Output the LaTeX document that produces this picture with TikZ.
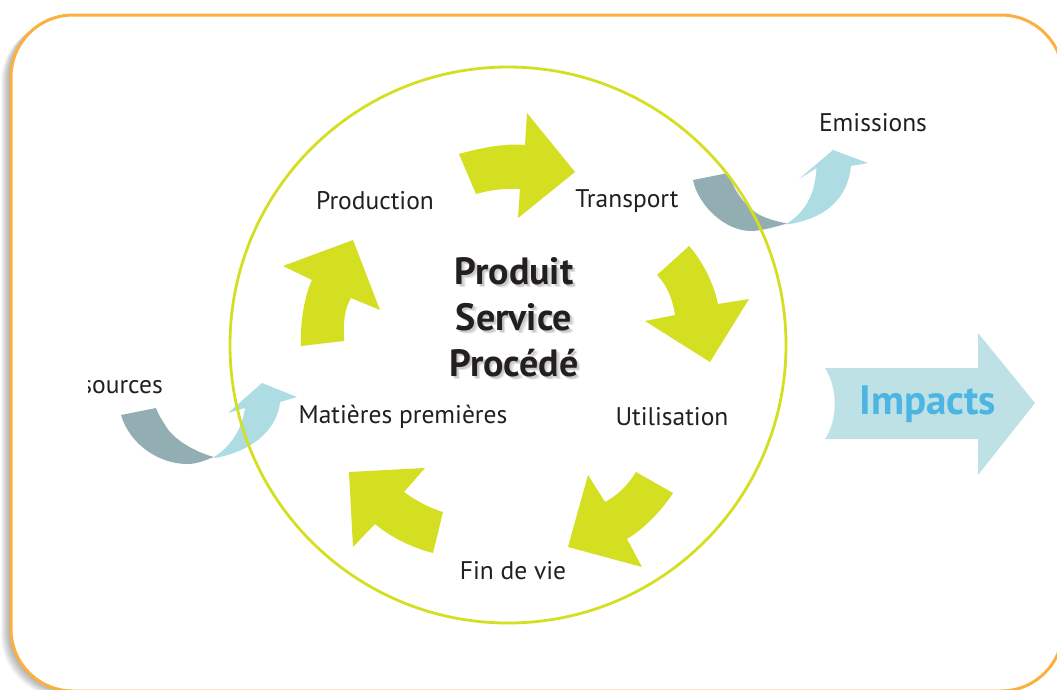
\documentclass[tikz,border=0pt]{standalone}
\usepackage{fontspec}
\setmainfont{PT Sans}
\definecolor{ylw}{HTML}{D5DF21}
\definecolor{frameor}{HTML}{FBB040}
\definecolor{ribgray}{HTML}{93AEB3}
\definecolor{ribblue}{HTML}{ADDCE3}
\definecolor{impfill}{HTML}{BEE1E6}
\definecolor{imptext}{HTML}{4CB5E2}
\definecolor{txt}{HTML}{231F20}
\tikzset{
  lbl/.style={font=\fontsize{25.5}{30}\selectfont, text=txt, inner sep=0pt},
  cyc/.style={fill=ylw},
  ctr/.style={align=center, font=\bfseries\fontsize{38}{46}\selectfont, inner sep=0pt},
  shd/.style={fill=black, fill opacity=0.035, rounded corners=62},
}
\begin{document}
\begin{tikzpicture}[x=1pt,y=-1pt]
\useasboundingbox (0,0) rectangle (1057,689);
\fill[white] (0,0) rectangle (1057,689);
% frame shadow (soft, to the left and below)
\foreach \s in {1,...,10} {
  \fill[shd] (11-\s,15+0.6*\s) rectangle (1063-\s,691+0.6*\s);
}
% frame
\draw[frameor, line width=3, rounded corners=62, fill=white] (11,15) rectangle (1063,691);

% yellow cycle arrows
\fill[cyc] (301,346) -- (344,341) .. controls (343,320) and (345,308) .. (351,298)
  -- (380,310) -- (353,240) -- (283,266) -- (312,280)
  .. controls (305,295) and (300,320) .. (301,346) -- cycle;
\fill[cyc] (476,194) -- (459,154) .. controls (480,148) and (505,143) .. (525,145)
  -- (527,113) -- (575,172) -- (518,218) -- (520,189)
  .. controls (505,188) and (490,190) .. (476,194) -- cycle;
\fill[cyc] (657,275) -- (689,246) .. controls (700,258) and (713,280) .. (718,304)
  -- (749,299) -- (710,362) -- (645,321) -- (675,315)
  .. controls (673,300) and (667,285) .. (657,275) -- cycle;
\fill[cyc] (636,472) -- (673,493) .. controls (662,510) and (645,528) .. (627,539)
  -- (642,567) -- (568,547) -- (588,475) -- (605,502)
  .. controls (618,495) and (628,485) .. (636,472) -- cycle;
\fill[cyc] (443,512) -- (433,553) .. controls (413,548) and (392,538) .. (375,524)
  -- (353,547) -- (349,472) -- (425,468) -- (404,492)
  .. controls (418,502) and (430,508) .. (443,512) -- cycle;

% emissions ribbon
\fill[ribgray] (693,180) .. controls (698,205) and (725,232) .. (753,231)
  .. controls (765,230) and (778,226) .. (787,223.5)
  .. controls (770,220) and (760,216) .. (755,212)
  .. controls (742,202) and (733,188) .. (728,173) -- cycle;
\fill[ribblue] (787,223.5) .. controls (805,212) and (815,195) .. (816.5,168)
  -- (799,179) -- (833,150) -- (868,163) -- (851,166)
  .. controls (848,195) and (830,218) .. (787,224.5) -- cycle;

% ressources ribbon
\fill[ribgray] (121,415) .. controls (130,445) and (160,465) .. (190,464)
  .. controls (200,463) and (208,459) .. (214,457)
  .. controls (195,452) and (175,440) .. (167,428)
  .. controls (162,420) and (158,414) .. (156,408) -- cycle;
\fill[ribblue] (214,457) .. controls (230,447) and (242,430) .. (245,408)
  -- (228,413) -- (262,383) -- (297,397) -- (280,402)
  .. controls (278,425) and (258,450) .. (215,458) -- cycle;

% circle
\draw[ylw, line width=2.8] (508,345) circle (278);

% impacts arrow
\fill[impfill] (825,368) -- (978,368) -- (978,333) -- (1035,403) -- (978,475)
  -- (978,439) -- (825,439) .. controls (838,420) and (838,388) .. (825,368) -- cycle;
\node[font=\bfseries\fontsize{41}{46}\selectfont, text=imptext, inner sep=0pt] (impacts) at (928,404) {Impacts};

% labels
\node[lbl] (production) at (375,201) {Production};
\node[lbl] (transport) at (627,201) {Transport};
\node[lbl] (emissions) at (873,123) {Emissions};
\node[lbl] (matieres) at (403,417) {Matières premières};
\node[lbl] (utilisation) at (672,417) {Utilisation};
\node[lbl] (findevie) at (513,571) {Fin de vie};
\begin{scope}
  \clip (88,360) rectangle (200,410);
  \node[lbl, anchor=east] (ressources) at (163,385) {Ressources};
\end{scope}

% centre text with soft shadow
\node[ctr, text=black, opacity=0.10] at (517.5,320.5) {Produit\\Service\\Procédé};
\node[ctr, text=black, opacity=0.12] at (516,319) {Produit\\Service\\Procédé};
\node[ctr, text=txt] (centre) at (514,317) {Produit\\Service\\Procédé};
\end{tikzpicture}
\end{document}
